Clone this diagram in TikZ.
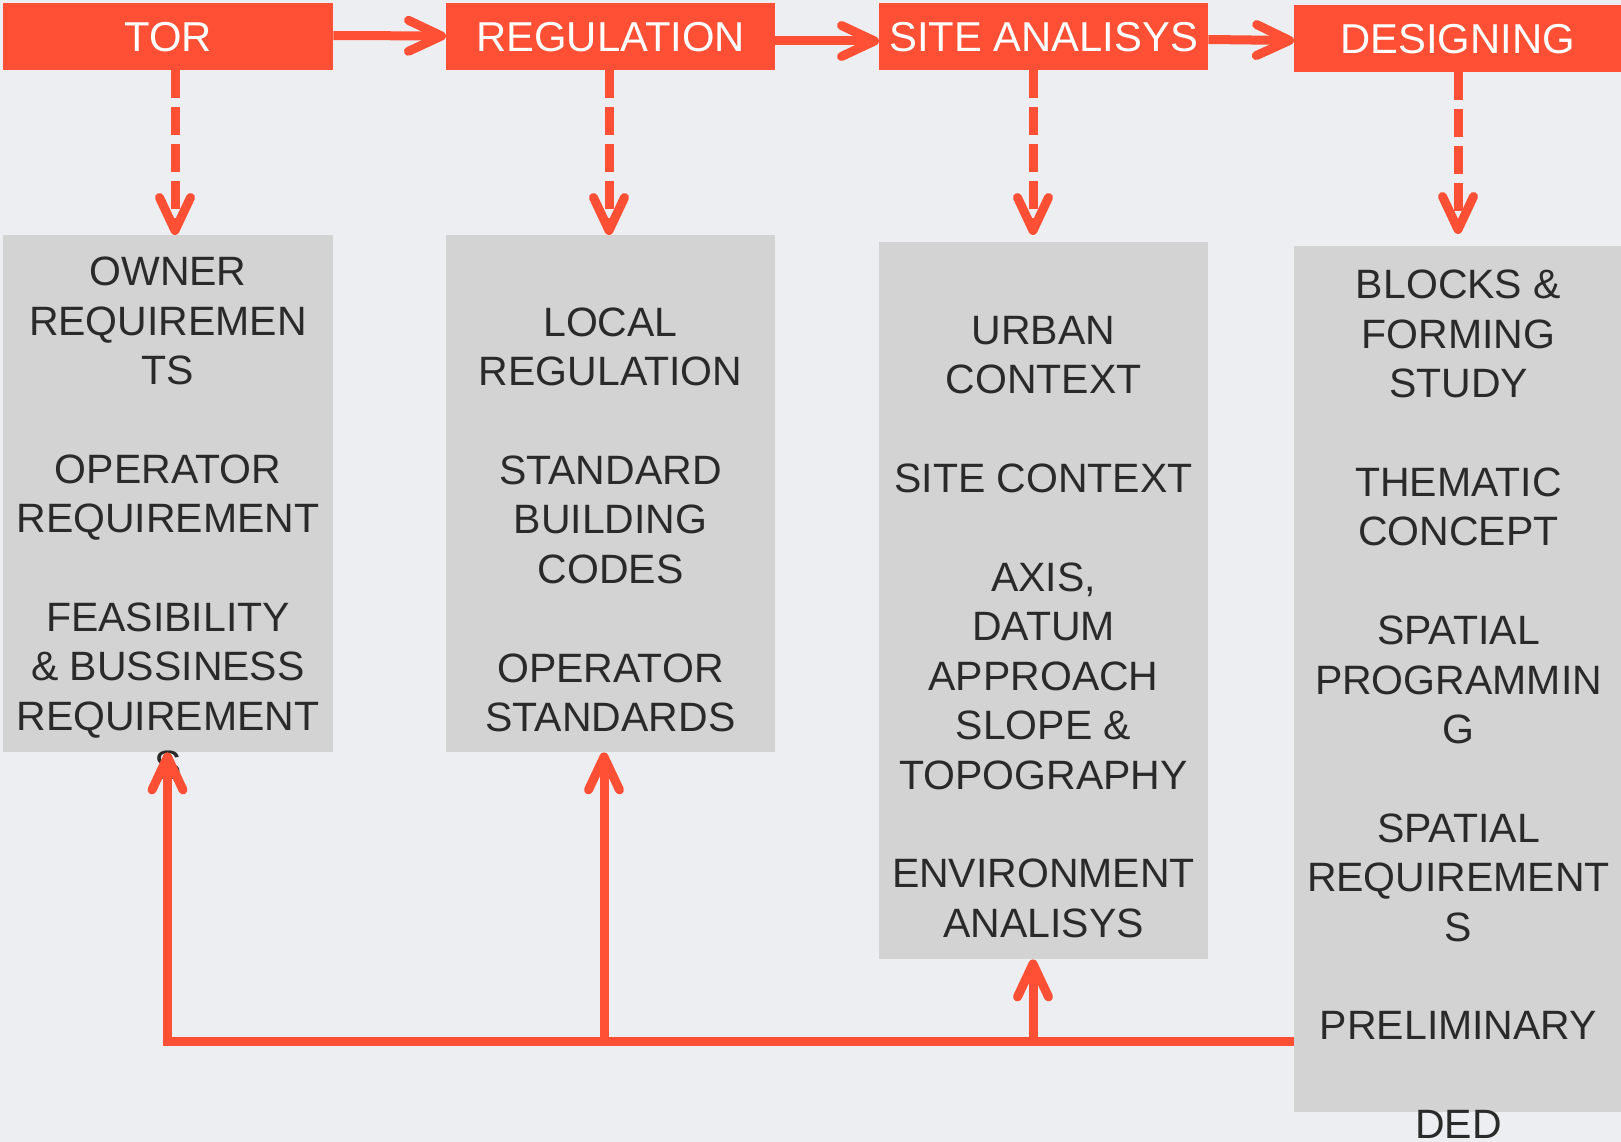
\documentclass[tikz,border=0pt]{standalone}
\usepackage{fontspec}
\setmainfont{Liberation Sans}
\usetikzlibrary{arrows.meta}
\definecolor{accent}{HTML}{FF5035}
\definecolor{panel}{HTML}{D3D3D3}
\definecolor{ink}{HTML}{2A2A2A}
\definecolor{bgcol}{HTML}{ECEEF1}
\newcommand\bigfont{\fontsize{41}{49.4}\selectfont}
\newcommand\headfont{\fontsize{41.8}{49.4}\selectfont}
\newcommand\boxlines[1]{\begin{tabular}[t]{@{}c@{}}#1\end{tabular}}
\begin{document}
\begin{tikzpicture}[x=1pt,y=-1pt,
  head/.style={fill=accent, text=white, inner sep=0pt, anchor=north west,
    text height=30pt, text depth=0pt, font=\headfont},
  panelbox/.style={fill=panel, inner sep=0pt, anchor=north west},
  paneltext/.style={text=ink, inner sep=0pt, anchor=base, font=\bigfont},
  flow/.style={draw=accent, line width=9pt,
    -{Straight Barb[length=33pt,width=31pt,round]}},
  dashflow/.style={flow, dash pattern=on 28pt off 9pt},
]
\useasboundingbox (0,0) rectangle (1621,1142);
\fill[bgcol] (0,0) rectangle (1621,1142);

% header boxes
\node[head, minimum width=330pt, minimum height=67pt] (tor) at (3,3) {TOR};
\node[head, minimum width=329pt, minimum height=67pt] (reg) at (446,3) {REGULATION};
\node[head, minimum width=329pt, minimum height=67pt] (site) at (879,3) {SITE ANALISYS};
\node[head, minimum width=327pt, minimum height=67pt] (des) at (1294,5) {DESIGNING};

% panels
\node[panelbox, minimum width=330pt, minimum height=517pt] (b1) at (3,235) {};
\node[panelbox, minimum width=329pt, minimum height=517pt] (b2) at (446,235) {};
\node[panelbox, minimum width=329pt, minimum height=717pt] (b3) at (879,242) {};
\node[panelbox, minimum width=327pt, minimum height=866pt] (b4) at (1294,246) {};

% panel texts
\node[paneltext] (t1) at (168,285.7) {\bigfont\boxlines{OWNER\\REQUIREMEN\\TS\\ \\OPERATOR\\REQUIREMENT\\ \\FEASIBILITY\\\& BUSSINESS\\REQUIREMENT\\S}};
\node[paneltext] (t2) at (610.5,336.2) {\bigfont\boxlines{LOCAL\\REGULATION\\ \\STANDARD\\BUILDING\\CODES\\ \\OPERATOR\\STANDARDS}};
\node[paneltext] (t3) at (1043.5,344.5) {\bigfont\boxlines{URBAN\\CONTEXT\\ \\SITE CONTEXT\\ \\AXIS,\\DATUM\\APPROACH\\SLOPE \&\\TOPOGRAPHY\\ \\ENVIRONMENT\\ANALISYS}};
\node[paneltext] (t4) at (1458.5,298.8) {\bigfont\boxlines{BLOCKS \&\\FORMING\\STUDY\\ \\THEMATIC\\CONCEPT\\ \\SPATIAL\\PROGRAMMIN\\G\\ \\SPATIAL\\REQUIREMENT\\S\\ \\PRELIMINARY\\ \\DED}};

% process arrows
\draw[flow] (tor.east |- 0,35.5) -- (reg.west |- 0,36);
\draw[flow] (reg.east |- 0,41) -- (site.west |- 0,41);
\draw[flow] (site.east |- 0,39.5) -- (des.west |- 0,40.5);

% dashed arrows
\draw[dashflow] (tor.south -| 175,0) -- (b1.north -| 175,0);
\draw[dashflow] (reg.south -| 609,0) -- (b2.north -| 609,0);
\draw[dashflow, shorten >=7pt] (site.south -| 1033,0) -- (b3.north -| 1033,0);
\draw[dashflow, shorten >=12pt] (des.south -| 1458,0) -- (b4.north -| 1458,0);

% feedback
\coordinate (fb1) at (167.5,1041);
\coordinate (fb2) at (604,1041);
\coordinate (fb3) at (1033,1041);
\draw[flow] (b4.west |- fb1) -- (fb1) -- (b1.south -| fb1);
\draw[flow] (fb2) -- (b2.south -| fb2);
\draw[flow] (fb3) -- (b3.south -| fb3);
\end{tikzpicture}
\end{document}
